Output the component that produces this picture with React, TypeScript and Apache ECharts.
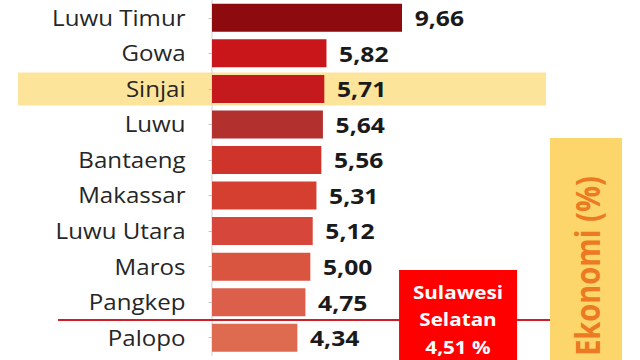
import React, { useEffect, useRef } from "react";
import * as echarts from "echarts";

const categories = [
  "Luwu Timur",
  "Gowa",
  "Sinjai",
  "Luwu",
  "Bantaeng",
  "Makassar",
  "Luwu Utara",
  "Maros",
  "Pangkep",
  "Palopo",
];
const values = [9.66, 5.82, 5.71, 5.64, 5.56, 5.31, 5.12, 5.0, 4.75, 4.34];
const barColors = [
  "#8D0A0F",
  "#C8161B",
  "#C41A1E",
  "#B2302E",
  "#CE3429",
  "#D43F30",
  "#D6463A",
  "#D9553F",
  "#DB5F4B",
  "#DE6A50",
];
const highlightCategory = "Sinjai";
const provinceLines = ["Sulawesi", "Selatan", "4,51 %"];
const provinceAfter = "Pangkep";
const provinceBefore = "Palopo";
const sideTitle = "Ekonomi (%)";

const SCALE = 640 / 557;
const FONT = "'Open Sans', 'Noto Sans', sans-serif";

export default function App() {
  const ref = useRef<HTMLDivElement>(null);

  useEffect(() => {
    if (!ref.current) return;
    const chart = echarts.init(ref.current, undefined, { renderer: "svg" });
    chart.setOption({
      animation: false,
      backgroundColor: "#ffffff",
      grid: { left: 184.5, right: 0, top: -4.5, height: 360, containLabel: false },
      xAxis: { type: "value", min: 0, max: 21.76, show: false },
      yAxis: {
        type: "category",
        data: categories,
        inverse: true,
        axisLine: { show: true, lineStyle: { color: "#d4d4d4", width: 1 } },
        axisTick: { show: true, alignWithLabel: true, length: 3, lineStyle: { color: "#c4c4c4" } },
        axisLabel: {
          margin: 23,
          fontFamily: FONT,
          fontSize: 21,
          color: "#262626",
        },
        splitLine: { show: false },
      },
      series: [
        {
          type: "bar",
          data: values.map((v, i) => ({ value: v, itemStyle: { color: barColors[i] } })),
          barWidth: 28,
          z: 3,
          label: {
            show: true,
            position: "right",
            distance: 11,
            fontFamily: FONT,
            fontWeight: "bold",
            fontSize: 21.5,
            color: "#1a1a1a",
            formatter: (p: any) => Number(p.value).toFixed(2).replace(".", ","),
          },
        },
      ],
    });

    const yHi = chart.convertToPixel({ yAxisIndex: 0 }, highlightCategory) as number;
    const yA = chart.convertToPixel({ yAxisIndex: 0 }, provinceAfter) as number;
    const yB = chart.convertToPixel({ yAxisIndex: 0 }, provinceBefore) as number;
    const yLine = (yA + yB) / 2;

    chart.setOption({
      graphic: [
        {
          type: "rect",
          z: -10,
          shape: { x: 15.7, y: yHi - 16.5, width: 459.5, height: 33 },
          style: { fill: "#FDE49B" },
        },
        {
          type: "line",
          z: 5,
          shape: { x1: 50.5, y1: yLine, x2: 479, y2: yLine },
          style: { stroke: "#CC1F27", lineWidth: 2 },
        },
        {
          type: "rect",
          z: 10,
          shape: { x: 347.3, y: 270, width: 102.7, height: 100 },
          style: { fill: "#FF0000" },
        },
        ...provinceLines.map((t, i) => ({
          type: "text",
          z: 11,
          x: 398.6,
          y: 292 + i * 27.5,
          style: {
            text: t,
            fill: "#ffffff",
            font: `bold 18px ${FONT}`,
            align: "center",
            verticalAlign: "middle",
          },
        })),
        {
          type: "rect",
          z: 10,
          shape: { x: 478.7, y: 138, width: 62.6, height: 240 },
          style: { fill: "#FCD66B" },
        },
        {
          type: "text",
          z: 11,
          x: 510.9,
          y: 266,
          rotation: Math.PI / 2,
          style: {
            text: sideTitle,
            fill: "#EC7A22",
            font: `bold 29px ${FONT}`,
            align: "center",
            verticalAlign: "middle",
          },
        },
      ],
    });

    return () => chart.dispose();
  }, []);

  return (
    <div
      style={{
        position: "fixed",
        left: 0,
        top: 0,
        width: 640,
        height: 360,
        overflow: "hidden",
        background: "#fff",
      }}
    >
      <div
        ref={ref}
        style={{
          width: 557,
          height: 360,
          transform: `scaleX(${SCALE})`,
          transformOrigin: "0 0",
        }}
      />
    </div>
  );
}
